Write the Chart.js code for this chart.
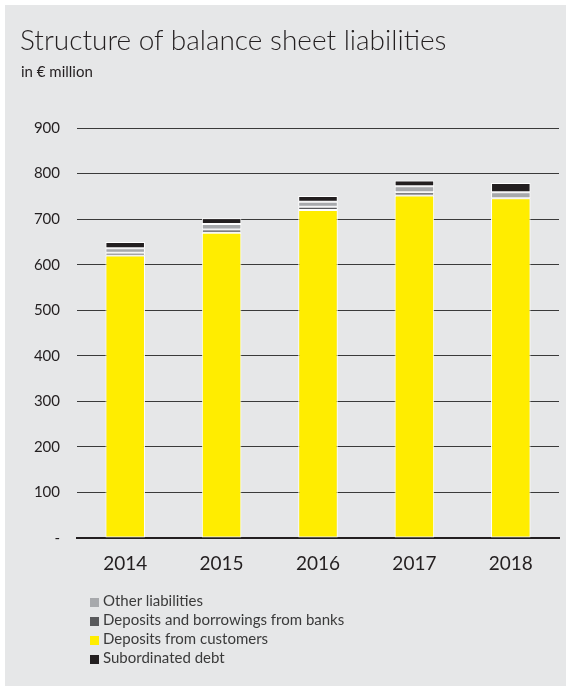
<!DOCTYPE html>
<html>
<head>
<meta charset="utf-8">
<script src="https://cdn.jsdelivr.net/npm/chart.js@4/dist/chart.umd.min.js"></script>
<style>
  html, body { margin: 0; padding: 0; background: #ffffff; }
  body { width: 571px; height: 691px; position: relative; overflow: hidden; font-family: "Lato", "Open Sans", sans-serif; color: #231f20; }
  #panel { position: absolute; left: 5px; top: 5px; width: 561px; height: 681px; background: #e6e7e8; }
  #c { position: absolute; left: 0; top: 0; }
  #title { position: absolute; left: 20px; top: 22px; font-size: 28px; font-weight: 300; white-space: nowrap; }
  #subtitle { position: absolute; left: 21px; top: 62px; font-size: 15px; white-space: nowrap; }
  #legend { position: absolute; left: 90px; top: 591px; font-size: 15px; color: #3a3a3a; }
  .item { height: 19px; line-height: 19px; white-space: nowrap; }
  .box { display: inline-block; width: 9px; height: 9px; margin-right: 4px; vertical-align: -1px; }
</style>
</head>
<body>
<div id="panel"></div>
<canvas id="c" width="571" height="691"></canvas>
<div id="title">Structure of balance sheet liabilities</div>
<div id="subtitle">in € million</div>
<div id="legend"></div>
<script>
// Balance sheet liabilities, € million
const years = ['2014', '2015', '2016', '2017', '2018'];
const customers = [620, 670, 720, 752, 746];
const banks = [6, 7, 7, 7, 0];
const other = [10, 12, 11, 13, 13];
const subordinated = [14, 13, 13, 13, 20];

const seriesNames = {
  customers: 'Deposits from customers',
  banks: 'Deposits and borrowings from banks',
  other: 'Other liabilities',
  subordinated: 'Subordinated debt'
};
const seriesColors = {
  customers: '#ffed00',
  banks: '#58595b',
  other: '#a7a9ac',
  subordinated: '#231f20'
};
// stacking order bottom to top
const stackOrder = ['customers', 'banks', 'other', 'subordinated'];
const seriesData = { customers, banks, other, subordinated };
// order of the key below the chart
const legendOrder = ['other', 'banks', 'customers', 'subordinated'];

const FONT = '"Lato", "Open Sans", sans-serif';
const INK = '#231f20';

new Chart(document.getElementById('c'), {
  type: 'bar',
  data: {
    labels: years,
    datasets: stackOrder.map(k => ({
      label: seriesNames[k],
      data: seriesData[k],
      backgroundColor: seriesColors[k],
      borderColor: '#ffffff',
      borderWidth: 1,
      borderSkipped: false,
      barPercentage: 0.41,
      categoryPercentage: 1
    }))
  },
  options: {
    responsive: false,
    animation: false,
    layout: { padding: { top: 128, bottom: 113, left: 0, right: 12 } },
    plugins: { legend: { display: false }, tooltip: { enabled: false } },
    scales: {
      x: {
        stacked: true,
        grid: { display: false },
        border: { display: true, color: INK, width: 2 },
        ticks: { color: INK, font: { family: FONT, size: 19 }, padding: 6 },
        afterFit(s) { s.height = 40; }
      },
      y: {
        stacked: true,
        min: 0,
        max: 900,
        ticks: {
          stepSize: 100,
          padding: 17,
          color: INK,
          font: { family: FONT, size: 15 },
          callback: v => (v === 0 ? '-' : v)
        },
        grid: { color: '#3a3a3a', lineWidth: 1, drawTicks: false },
        border: { display: false },
        afterFit(s) { s.width = 77; }
      }
    }
  }
});

const legend = document.getElementById('legend');
legendOrder.forEach(k => {
  const row = document.createElement('div');
  row.className = 'item';
  const box = document.createElement('span');
  box.className = 'box';
  box.style.background = seriesColors[k];
  row.appendChild(box);
  row.appendChild(document.createTextNode(seriesNames[k]));
  legend.appendChild(row);
});
</script>
</body>
</html>
